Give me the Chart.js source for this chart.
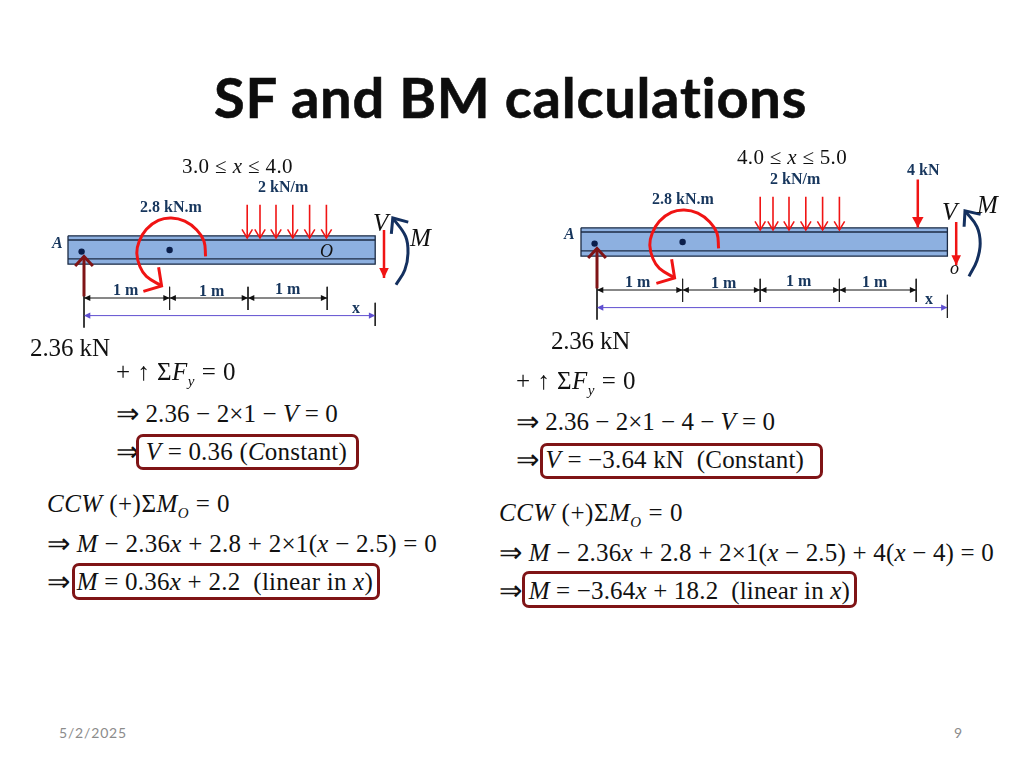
<!DOCTYPE html>
<html>
<head>
<meta charset="utf-8">
<script src="https://cdn.jsdelivr.net/npm/chart.js@4"></script>
<style>
  html, body { margin: 0; padding: 0; background: #fff; }
  body { width: 1024px; height: 768px; position: relative; overflow: hidden; }
  canvas { position: absolute; }
  .t { position: absolute; white-space: pre; line-height: 1; transform: translateY(-50%);
       font-family: "Liberation Serif", serif; color: #111; }
  .eq { font-size: 25px; }
  .rng { font-size: 21px; }
  .lb { font-size: 16px; font-weight: bold; color: #17365d; }
  .sym { font-size: 25px; font-style: italic; }
  .pt { font-size: 18px; font-style: italic; }
  .title { font-family: Lato, sans-serif; font-weight: bold; font-size: 56px; color: #0d0d0d; -webkit-text-stroke: 0.6px #0d0d0d; }
  .foot { font-family: Lato, sans-serif; font-size: 14px; color: #8b8b8b; }
  sub { font-size: 15px; line-height: 0; vertical-align: -6px; font-style: italic; }
  .ar { font-size: 28px; line-height: 0; vertical-align: -1px; }
  .box { position: absolute; border: 3px solid #7f1416; border-radius: 7px; box-sizing: border-box; }
</style>
</head>
<body>
<canvas id="leftBeam"></canvas>
<canvas id="rightBeam"></canvas>
<script>
// ---- values, metres from the reaction at A ----
const udlXs = [2.04, 2.2, 2.4, 2.61, 2.82, 3.03];
const coupleXs = [1.52, 1.50, 1.41, 1.26, 1.09, 0.93, 0.78, 0.69, 0.66, 0.70, 0.78, 0.97];
const coupleYs = [-0.08, 0.11, 0.25, 0.36, 0.40, 0.37, 0.26, 0.11, -0.04, -0.21, -0.33, -0.45];
const dotXs = [-0.03, 1.07];
const dotYs = [-0.02, 0];

const leftTicks = [0, 1.07, 2.05, 3.04];
const leftEnd = 3.64;
const leftVX = 3.75;
const leftVYs = [0.25, -0.35];
const leftMomentXs = [3.90, 4.01, 4.05, 4.02, 3.86];
const leftMomentYs = [-0.435, -0.25, -0.04, 0.17, 0.40];

const rightTicks = [0, 1.07, 2.04, 3.03, 3.99];
const rightEnd = 4.38;
const rightVX = 4.49;
const rightVYs = [0.25, -0.29];
const rightMomentXs = [4.65, 4.75, 4.79, 4.75, 4.60];
const rightMomentYs = [-0.43, -0.23, -0.02, 0.19, 0.39];
const pointLoadX = 4.01;
const pointLoadYs = [0.78, 0.18];

const RED = '#f01414', DARK = '#7f1416', NAVY = '#14305f', INK = '#222', PURPLE = '#5f4fd0';
const PX_PER_M = 80;

function pts(xs, ys) { return xs.map((x, i) => ({ x: x, y: ys[i] })); }

function line(data, color, width, head, extra) {
  return Object.assign({
    data: data, borderColor: color, borderWidth: width, pointRadius: 0,
    showLine: true, fill: false, tension: 0, order: 1, head: head
  }, extra || {});
}

function vert(x, y0, y1, color, width, head) {
  return line(pts([x, x], [y0, y1]), color, width, head);
}

// chevrons at the ends of a dataset, through the pixels the scales gave it
const arrowHeads = {
  id: 'arrowHeads',
  afterDatasetsDraw(chart) {
    const ctx = chart.ctx;
    chart.data.datasets.forEach((ds, i) => {
      if (!ds.head) return;
      const p = chart.getDatasetMeta(i).data;
      const draw = (tip, from) => {
        const a = Math.atan2(tip.y - from.y, tip.x - from.x);
        ctx.save();
        ctx.beginPath();
        ctx.moveTo(tip.x - ds.head.len * Math.cos(a - ds.head.ang), tip.y - ds.head.len * Math.sin(a - ds.head.ang));
        ctx.lineTo(tip.x, tip.y);
        ctx.lineTo(tip.x - ds.head.len * Math.cos(a + ds.head.ang), tip.y - ds.head.len * Math.sin(a + ds.head.ang));
        if (ds.head.solid) {
          ctx.closePath();
          ctx.fillStyle = ds.borderColor;
          ctx.fill();
        } else {
          ctx.strokeStyle = ds.borderColor;
          ctx.lineWidth = ds.head.width || ds.borderWidth;
          ctx.stroke();
        }
        ctx.restore();
      };
      draw(p[p.length - 1], p[p.length - 2]);
      if (ds.head.both) draw(p[0], p[1]);
    });
  }
};

function beamDatasets(ticks, end, vX, vYs, momentXs, momentYs) {
  const sets = [];
  const thin = { len: 10, ang: 0.55, width: 1.5 };
  const dim = { len: 7, ang: 0.45, both: true, solid: true };

  udlXs.forEach(x => sets.push(vert(x, 0.565, 0.15, RED, 1.6, thin)));
  sets.push(vert(0, -0.58, -0.08, DARK, 3, { len: 13, ang: 0.75 }));
  sets.push(line(pts(coupleXs, coupleYs), RED, 3, { len: 19, ang: 0.85 }, { tension: 0.4 }));
  sets.push(vert(vX, vYs[0], vYs[1], RED, 2.5, { len: 11, ang: 0.45, solid: true }));
  sets.push(line(pts(momentXs, momentYs), NAVY, 3, { len: 16, ang: 0.7 }, { tension: 0.4 }));

  // dimension lines
  sets.push(vert(0, -0.55, -0.97, INK, 1));
  ticks.slice(1).forEach(x => sets.push(vert(x, -0.46, -0.75, INK, 1)));
  sets.push(vert(end, -0.66, -0.95, INK, 1));
  ticks.slice(1).forEach((x, i) => sets.push(line(pts([ticks[i], x], [-0.6, -0.6]), '#111', 1, dim)));
  sets.push(line(pts([0, end], [-0.82, -0.82]), PURPLE, 1, dim));

  sets.push({
    data: pts(dotXs, dotYs), showLine: false, pointRadius: 3.2, order: 1,
    pointBackgroundColor: '#0b1f4b', pointBorderWidth: 0
  });

  // beam: flange lines over a filled rectangle
  sets.push(line(pts([-0.2, end], [0.125, 0.125]), '#1c2b44', 1.3, null, { order: 5 }));
  sets.push(line(pts([-0.2, end], [-0.11, -0.11]), '#1c2b44', 1.3, null, { order: 5 }));
  sets.push(line(pts([-0.2, end, end, -0.2, -0.2], [0.177, 0.177, -0.177, -0.177, 0.177]), '#1c2b44', 1.3, null,
    { order: 6, fill: 'shape', backgroundColor: '#8db0e0' }));
  return sets;
}

function drawBeam(id, left, top, xMax, sets) {
  const cv = document.getElementById(id);
  const w = (xMax + 1) * PX_PER_M, h = 2.35 * PX_PER_M;
  cv.style.left = left + 'px';
  cv.style.top = top + 'px';
  cv.width = w; cv.height = h;
  cv.style.width = w + 'px'; cv.style.height = h + 'px';
  return new Chart(cv, {
    type: 'scatter',
    data: { datasets: sets },
    options: {
      responsive: false, animation: false,
      layout: { autoPadding: false, padding: 0 },
      plugins: { legend: { display: false }, tooltip: { enabled: false } },
      scales: {
        x: { type: 'linear', display: false, min: -1, max: xMax },
        y: { type: 'linear', display: false, min: -1.1, max: 1.25 }
      }
    },
    plugins: [arrowHeads]
  });
}

const rightSets = beamDatasets(rightTicks, rightEnd, rightVX, rightVYs, rightMomentXs, rightMomentYs);
rightSets.unshift(vert(pointLoadX, pointLoadYs[0], pointLoadYs[1], RED, 2.5, { len: 12, ang: 0.5, solid: true }));

drawBeam('leftBeam', 4.3, 150.2, 4.5, beamDatasets(leftTicks, leftEnd, leftVX, leftVYs, leftMomentXs, leftMomentYs));
drawBeam('rightBeam', 516.7, 141.7, 5, rightSets);

// ---- text ----
function text(html, cls, x, y, right) {
  const el = document.createElement('div');
  el.className = 't ' + cls;
  el.innerHTML = html.replace('⇒', '<span class="ar">⇒</span>');
  el.style.left = x + 'px';
  el.style.top = y + 'px';
  document.body.appendChild(el);
  if (right) {
    const n = el.textContent.length;
    el.style.letterSpacing = ((right - x - el.getBoundingClientRect().width) / n) + 'px';
  }
}
function box(x, y, w, h) {
  const el = document.createElement('div');
  el.className = 'box';
  el.style.cssText = `left:${x}px;top:${y}px;width:${w}px;height:${h}px`;
  document.body.appendChild(el);
}

text('SF and BM calculations', 'title', 214, 97, 808);
text('5/2/2025', 'foot', 59, 733, 127);
text('9', 'foot', 954, 733);

// left diagram labels
text('3.0 ≤ <i>x</i> ≤ 4.0', 'rng', 182, 166, 293);
text('2 kN/m', 'lb', 258, 187);
text('2.8 kN.m', 'lb', 140, 207);
text('<i>A</i>', 'lb', 52, 243);
text('1 m', 'lb', 113, 290);
text('1 m', 'lb', 199, 291);
text('1 m', 'lb', 275, 289);
text('x', 'lb', 352, 308);
text('O', 'pt', 320, 251);
text('V', 'sym', 373, 222);
text('M', 'sym', 410, 237);

// right diagram labels
text('4.0 ≤ <i>x</i> ≤ 5.0', 'rng', 737, 157, 847);
text('4 kN', 'lb', 907, 170);
text('2 kN/m', 'lb', 770, 179);
text('2.8 kN.m', 'lb', 652, 199);
text('<i>A</i>', 'lb', 564, 234);
text('1 m', 'lb', 625, 282);
text('1 m', 'lb', 711, 283);
text('1 m', 'lb', 786, 281);
text('1 m', 'lb', 862, 282);
text('x', 'lb', 925, 299);
text('V', 'sym', 942, 211);
text('M', 'sym', 977, 204);
text('o', 'pt', 950, 268);

// left equations
text('2.36 kN', 'eq', 30, 347, 110);
text('+ ↑ Σ<i>F</i><sub>y</sub> = 0', 'eq', 116, 371, 236);
text('⇒ 2.36 − 2×1 − <i>V</i> = 0', 'eq', 116, 413, 338);
text('⇒ <i>V</i> = 0.36 (<i>C</i>onstant)', 'eq', 116, 451, 347);
text('<i>CCW</i> (+)Σ<i>M</i><sub>O</sub> = 0', 'eq', 47, 503, 230);
text('⇒ <i>M</i> − 2.36<i>x</i> + 2.8 + 2×1(<i>x</i> − 2.5) = 0', 'eq', 47, 543, 437);
text('⇒ <i>M</i> = 0.36<i>x</i> + 2.2  (linear in <i>x</i>)', 'eq', 47, 581, 373);
box(136, 434, 223, 36);
box(72, 563, 308, 37);

// right equations
text('2.36 kN', 'eq', 551, 340, 630);
text('+ ↑ Σ<i>F</i><sub>y</sub> = 0', 'eq', 516, 380, 636);
text('⇒ 2.36 − 2×1 − 4 − <i>V</i> = 0', 'eq', 516, 421, 775);
text('⇒ <i>V</i> = −3.64 kN  (Constant)', 'eq', 516, 459, 804);
text('<i>CCW</i> (+)Σ<i>M</i><sub>O</sub> = 0', 'eq', 499, 512, 683);
text('⇒ <i>M</i> − 2.36<i>x</i> + 2.8 + 2×1(<i>x</i> − 2.5) + 4(<i>x</i> − 4) = 0', 'eq', 499, 552, 994);
text('⇒ <i>M</i> = −3.64<i>x</i> + 18.2  (linear in <i>x</i>)', 'eq', 499, 590, 850);
box(540, 443, 283, 36);
box(522, 571, 335, 37);
</script>
</body>
</html>
